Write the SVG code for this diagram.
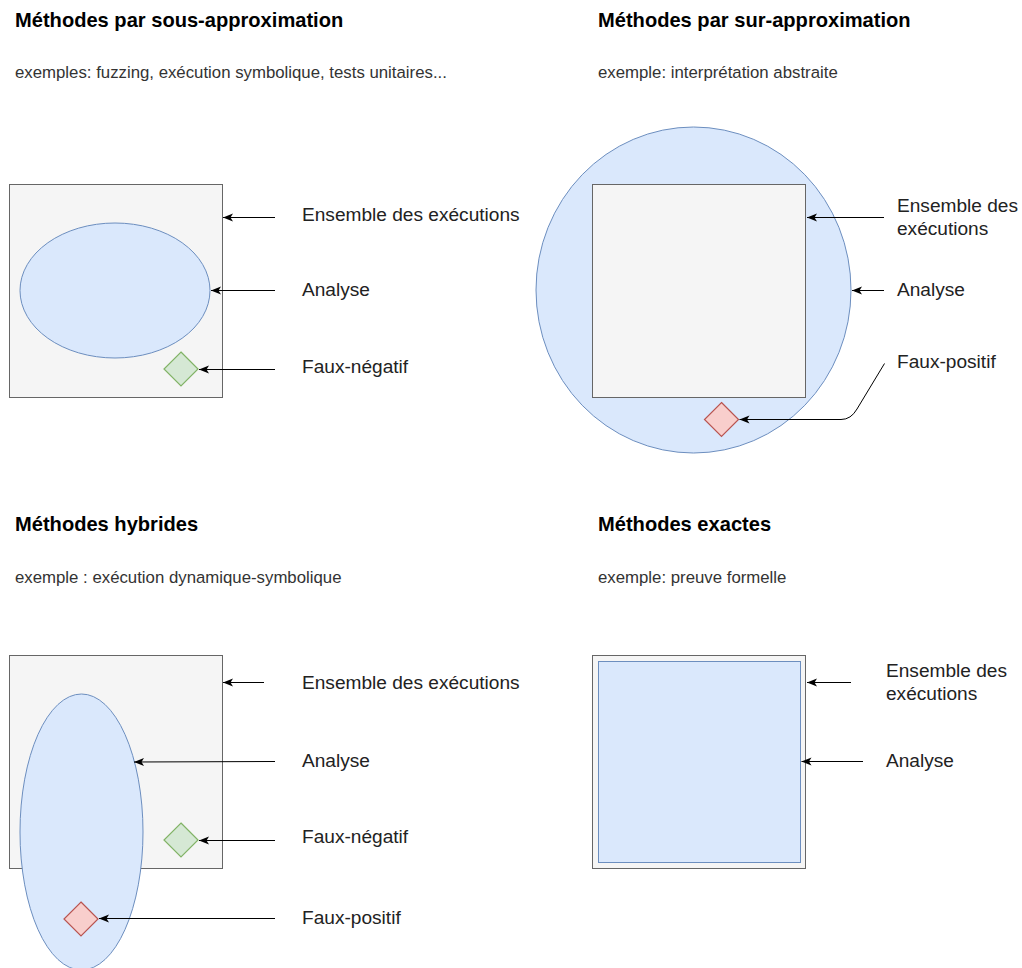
<svg xmlns="http://www.w3.org/2000/svg" width="1022" height="968" viewBox="0 0 1022 968">
<defs>
<style>
.title{font-family:"Liberation Sans",Arial,sans-serif;font-weight:bold;font-size:20.1px;fill:#000}
.sub{font-family:"Liberation Sans",Arial,sans-serif;font-size:16.8px;fill:#333}
.lbl{font-family:"Liberation Sans",Arial,sans-serif;font-size:19.1px;fill:#222}
.grey{fill:#f5f5f5;stroke:#666;stroke-width:1}
.blue{fill:#dae8fc;stroke:#6c8ebf;stroke-width:1}
.green{fill:#d5e8d4;stroke:#82b366;stroke-width:1.2}
.red{fill:#f8cecc;stroke:#b85450;stroke-width:1.2}
.conn{fill:none;stroke:#000;stroke-width:1;marker-end:url(#arr)}
</style>
<marker id="arr" markerUnits="userSpaceOnUse" markerWidth="11" markerHeight="9" refX="10" refY="4.5" orient="auto">
<path d="M0,0.5 L10,4.5 L0,8.5 L2.5,4.5 Z" fill="#000"/>
</marker>
</defs>
<rect width="1022" height="968" fill="#fff"/>

<g id="titles">
<text class="title" x="15" y="27">Méthodes par sous-approximation</text>
<text class="sub" x="15" y="78">exemples: fuzzing, exécution symbolique, tests unitaires...</text>
<text class="title" x="598" y="27">Méthodes par sur-approximation</text>
<text class="sub" x="598" y="78">exemple: interprétation abstraite</text>
<text class="title" x="15" y="531">Méthodes hybrides</text>
<text class="sub" x="15" y="583">exemple : exécution dynamique-symbolique</text>
<text class="title" x="598" y="531">Méthodes exactes</text>
<text class="sub" x="598" y="583">exemple: preuve formelle</text>
</g>

<!-- Panel 1 -->
<g id="p1-ensemble"><rect class="grey" x="9.5" y="184.5" width="213" height="213"/></g>
<g id="p1-analyse"><ellipse class="blue" cx="115" cy="290.5" rx="95" ry="67.5"/></g>
<g id="p1-fauxneg"><path class="green" d="M181,352 L198,369 L181,386 L164,369 Z"/></g>
<g id="p1-labels">
<text class="lbl" x="302" y="221">Ensemble des exécutions</text>
<text class="lbl" x="302" y="296">Analyse</text>
<text class="lbl" x="302" y="373">Faux-négatif</text>
</g>

<!-- Panel 2 -->
<g id="p2-analyse"><ellipse class="blue" cx="693.5" cy="290" rx="157.5" ry="163"/></g>
<g id="p2-ensemble"><rect class="grey" x="592.5" y="184.5" width="213" height="213"/></g>
<g id="p2-fauxpos"><path class="red" d="M721.5,402.5 L738.5,419.5 L721.5,436.5 L704.5,419.5 Z"/></g>
<g id="p2-labels">
<text class="lbl" x="897" y="212">Ensemble des</text>
<text class="lbl" x="897" y="235">exécutions</text>
<text class="lbl" x="897" y="296">Analyse</text>
<text class="lbl" x="897" y="368">Faux-positif</text>
</g>

<!-- Panel 3 -->
<g id="p3-ensemble"><rect class="grey" x="9.5" y="655.5" width="213" height="213"/></g>
<g id="p3-analyse"><ellipse class="blue" cx="81.5" cy="832" rx="61.5" ry="138"/></g>
<g id="p3-fauxneg"><path class="green" d="M181,823 L198,840 L181,857 L164,840 Z"/></g>
<g id="p3-fauxpos"><path class="red" d="M81,902 L98,919 L81,936 L64,919 Z"/></g>
<g id="p3-labels">
<text class="lbl" x="302" y="689">Ensemble des exécutions</text>
<text class="lbl" x="302" y="767">Analyse</text>
<text class="lbl" x="302" y="843">Faux-négatif</text>
<text class="lbl" x="302" y="924">Faux-positif</text>
</g>

<!-- Panel 4 -->
<g id="p4-ensemble"><rect class="grey" x="592.5" y="655.5" width="213" height="213"/></g>
<g id="p4-analyse"><rect class="blue" x="598.5" y="661.5" width="202" height="201"/></g>
<g id="p4-labels">
<text class="lbl" x="886" y="677">Ensemble des</text>
<text class="lbl" x="886" y="700">exécutions</text>
<text class="lbl" x="886" y="767">Analyse</text>
</g>

<g id="connectors">
<path class="conn" d="M275,217.5 L223,217.5"/>
<path class="conn" d="M275,290.5 L211,290.5"/>
<path class="conn" d="M275,369.5 L199,369.5"/>

<path class="conn" d="M884,217.5 L807,217.5"/>
<path class="conn" d="M884,290.5 L852,290.5"/>
<path class="conn" d="M884.5,363.5 L857,409 Q851,419.5 841,419.5 L739.5,419.5"/>

<path class="conn" d="M264,682.5 L223,682.5"/>
<path class="conn" d="M275,761.5 L134,762"/>
<path class="conn" d="M275,840.5 L199,840.5"/>
<path class="conn" d="M275,918.5 L99,918.5"/>

<path class="conn" d="M851,682.5 L807,682.5"/>
<path class="conn" d="M863,761.5 L801.5,761.5"/>
</g>
</svg>
